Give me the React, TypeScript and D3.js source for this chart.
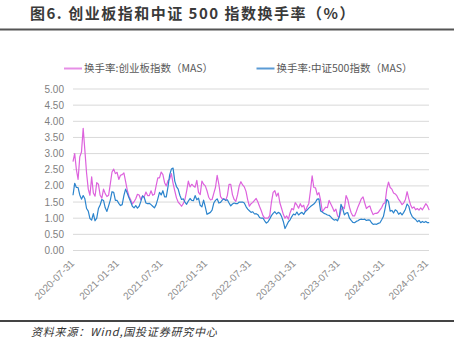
import React from "react";
import * as d3 from "d3";

const seriesNames = ["换手率:创业板指数（MAS）", "换手率:中证500指数（MAS）"];
const seriesColors = ["#dd62dd", "#2b84cd"];

// weekly observations (Fridays) starting 2020-07-31
const startDate = new Date(2020, 6, 31);

const cybValues = [
  2.75, 3.0, 2.5, 2.2, 2.9, 3.05, 3.78, 3.1, 2.4, 1.9,
  1.71, 2.28, 1.78, 1.68, 2.1, 2.05, 1.71, 1.62, 1.9, 1.76,
  1.67, 1.71, 2.06, 2.43, 2.52, 2.38, 2.42, 2.2, 2.33, 2.35,
  2.4, 2.14, 1.87, 1.68, 1.57, 1.44, 1.51, 1.6, 1.74, 1.72,
  1.57, 1.69, 1.66, 1.81, 1.7, 1.7, 1.85, 1.71, 1.74, 2.0,
  2.25, 2.25, 2.43, 2.35, 2.1, 2.0, 2.16, 2.21, 2.38, 2.08,
  1.85, 1.63, 1.5, 1.44, 1.37, 1.45, 1.58, 1.84, 2.15, 1.97,
  2.05, 2.0, 1.96, 2.17, 1.8, 1.73, 2.15, 2.05, 2.0, 1.85,
  1.65, 1.57, 1.58, 1.77, 1.95, 2.33, 2.05, 1.67, 1.6, 1.6,
  1.55, 1.7, 2.05, 2.05, 1.73, 1.58, 1.52, 1.72, 2.0, 2.13,
  2.03, 1.97, 1.83, 1.57, 1.37, 1.45, 1.49, 1.55, 1.61, 1.5,
  1.36, 1.23, 1.08, 1.0, 1.0, 1.0, 1.08, 1.5, 1.8, 1.85,
  1.68, 1.78, 1.47, 1.3, 1.12, 1.0, 1.07, 0.97, 1.17, 1.3,
  1.26, 1.48, 1.41, 1.31, 1.45, 1.35, 1.4, 1.21, 1.35, 1.45,
  1.85, 2.31, 1.95, 1.94, 1.72, 1.79, 1.55, 1.2, 1.27, 1.34,
  1.33, 1.55, 1.44, 1.33, 1.21, 1.28, 1.07, 1.03, 1.24, 1.35,
  1.3, 1.7, 1.58, 1.34, 1.17, 1.07, 1.07, 1.2, 1.35, 1.47,
  1.6, 1.66, 1.47, 1.3, 1.35, 1.38, 1.22, 1.11, 1.15, 1.15,
  1.18, 1.26, 1.33, 1.45, 1.48, 1.9, 2.12, 1.95, 1.9, 1.78,
  1.75, 1.69, 1.58, 1.51, 1.42, 1.47, 1.58, 1.82, 1.6, 1.42,
  1.31, 1.35, 1.26, 1.3, 1.25, 1.32, 1.26, 1.35, 1.45, 1.38,
  1.25,
];

const zz500Values = [
  1.71, 2.08, 1.95, 1.95, 1.72, 1.59, 1.7, 1.6, 1.3, 1.22,
  0.99, 0.94, 1.14, 0.92, 1.0, 1.3, 1.41, 1.58, 1.55, 1.32,
  1.21, 1.38, 1.56, 1.82, 1.8, 1.55, 1.55, 1.46, 1.39, 1.42,
  1.7, 1.9, 1.77, 1.63, 1.51, 1.37, 1.32, 1.39, 1.31, 1.37,
  1.52, 1.69, 1.64, 1.47, 1.45, 1.46, 1.42, 1.37, 1.32, 1.42,
  1.6, 1.8, 1.72, 1.85, 1.66, 1.66, 1.97, 2.34, 2.52, 2.55,
  2.15, 1.98, 1.9, 1.71, 1.58, 1.6, 1.5, 1.43, 1.53, 1.61,
  1.55, 1.54, 1.7, 1.57, 1.62, 1.4, 1.35, 1.56, 1.35, 1.12,
  1.15, 1.18, 1.25, 1.47, 1.55, 1.6, 1.47, 1.49, 1.56, 1.6,
  1.55, 1.57, 1.47, 1.38, 1.44, 1.47, 1.45, 1.45, 1.5, 1.5,
  1.5, 1.47, 1.36, 1.28, 1.23, 1.18, 1.2, 1.13, 1.14, 1.11,
  1.02, 1.0, 1.0, 0.92, 0.85, 0.89, 0.98, 1.08, 1.15, 1.2,
  1.13, 1.18, 1.15, 1.05, 0.9, 0.68, 0.78, 0.89, 0.95, 1.05,
  1.13, 1.1, 1.19, 1.1, 1.15, 1.18, 1.12, 1.21, 1.25, 1.31,
  1.36, 1.4, 1.44, 1.5, 1.59, 1.6, 1.22, 1.19, 1.15, 1.13,
  1.1, 1.09, 1.04, 0.98, 0.94, 0.96, 0.92, 1.05, 1.43, 1.3,
  1.1, 1.16, 1.17, 1.0, 0.93, 0.87, 0.86, 0.9, 0.92, 0.96,
  0.97, 0.96, 0.97, 0.93, 0.95, 0.94, 0.86, 0.81, 0.82, 0.81,
  0.84, 0.86, 0.95, 1.05, 1.3, 1.58, 1.52, 1.22, 1.24, 1.16,
  1.26, 1.22, 1.12, 1.17, 1.1, 1.18, 1.28, 1.44, 1.37, 1.16,
  1.05, 1.0, 0.96, 0.89, 0.93, 0.86, 0.9, 0.87, 0.9, 0.86,
  0.86,
];

const xTickLabels = [
  "2020-07-31", "2021-01-31", "2021-07-31", "2022-01-31", "2022-07-31",
  "2023-01-31", "2023-07-31", "2024-01-31", "2024-07-31",
];
const yTicks = [0, 0.5, 1, 1.5, 2, 2.5, 3, 3.5, 4, 4.5, 5];

const titleText = "图6. 创业板指和中证 500 指数换手率（%）";
const sourceText = "资料来源：Wind,国投证券研究中心";

export default function App() {
  const W = 465, H = 355;
  const parse = d3.timeParse("%Y-%m-%d");
  const dates = cybValues.map((_, i) => d3.timeDay.offset(startDate, 7 * i));

  const x = d3.scaleTime()
    .domain([parse("2020-07-31")!, parse("2024-07-31")!])
    .range([73, 427]);
  const y = d3.scaleLinear().domain([0, 5]).range([250.5, 89]);

  const line = d3.line<number>()
    .x((_, i) => x(dates[i]))
    .y((d) => y(d));

  const series = [cybValues, zz500Values];
  const cjk = "'Noto Sans CJK SC', 'Noto Sans', sans-serif";
  const narrow = "'Liberation Sans Narrow', 'Arial Narrow', 'Liberation Sans', sans-serif";

  return (
    <div style={{ position: "fixed", left: 0, top: 0, width: W, height: H, background: "#fff" }}>
      <svg width={W} height={H} style={{ display: "block" }}>
        <rect width={W} height={H} fill="#fff" />
        <text x={30} y={19} fontFamily={cjk} fontWeight={700} fontSize={15} fill="#3a3a3a" letterSpacing={1.5}>
          {titleText}
        </text>
        <line x1={0} x2={454} y1={29.5} y2={29.5} stroke="#555" strokeWidth={2} />

        {/* legend */}
        {seriesNames.map((name, i) => {
          const lx = i === 0 ? 64 : 256.5;
          return (
            <g key={name}>
              <line x1={lx} x2={lx + 18} y1={68.5} y2={68.5} stroke={i === 0 ? "#e68fe6" : "#5b9bd5"} strokeWidth={2} />
              <text x={lx + 20} y={72} fontFamily={cjk} fontSize={10.5} fill="#595959">{name}</text>
            </g>
          );
        })}

        {/* grid */}
        {yTicks.map((t) => (
          <g key={t}>
            <line x1={73} x2={429} y1={y(t)} y2={y(t)} stroke="#d9d9d9" strokeWidth={1} />
            <text x={64} y={y(t) + 3.5} textAnchor="end" fontFamily={narrow} fontSize={10} fill="#7f7f7f">
              {t.toFixed(2)}
            </text>
          </g>
        ))}

        {/* x labels */}
        {xTickLabels.map((lbl) => {
          const px = x(parse(lbl)!) + 2;
          const py = 264;
          return (
            <text key={lbl} x={px} y={py} transform={`rotate(-45 ${px} ${py})`} textAnchor="end"
              fontFamily={narrow} fontSize={10} fill="#8c8c8c">
              {lbl}
            </text>
          );
        })}

        {/* lines */}
        {series.map((vals, i) => (
          <path key={i} d={line(vals) || ""} fill="none" stroke={seriesColors[i]} strokeWidth={1.2} strokeLinejoin="round" />
        ))}

        <line x1={0} x2={454} y1={321} y2={321} stroke="#444" strokeWidth={2} />
        <text x={31} y={336} fontFamily={cjk} fontStyle="italic" fontSize={11} fill="#333" letterSpacing={0.8}>
          {sourceText}
        </text>
      </svg>
    </div>
  );
}
